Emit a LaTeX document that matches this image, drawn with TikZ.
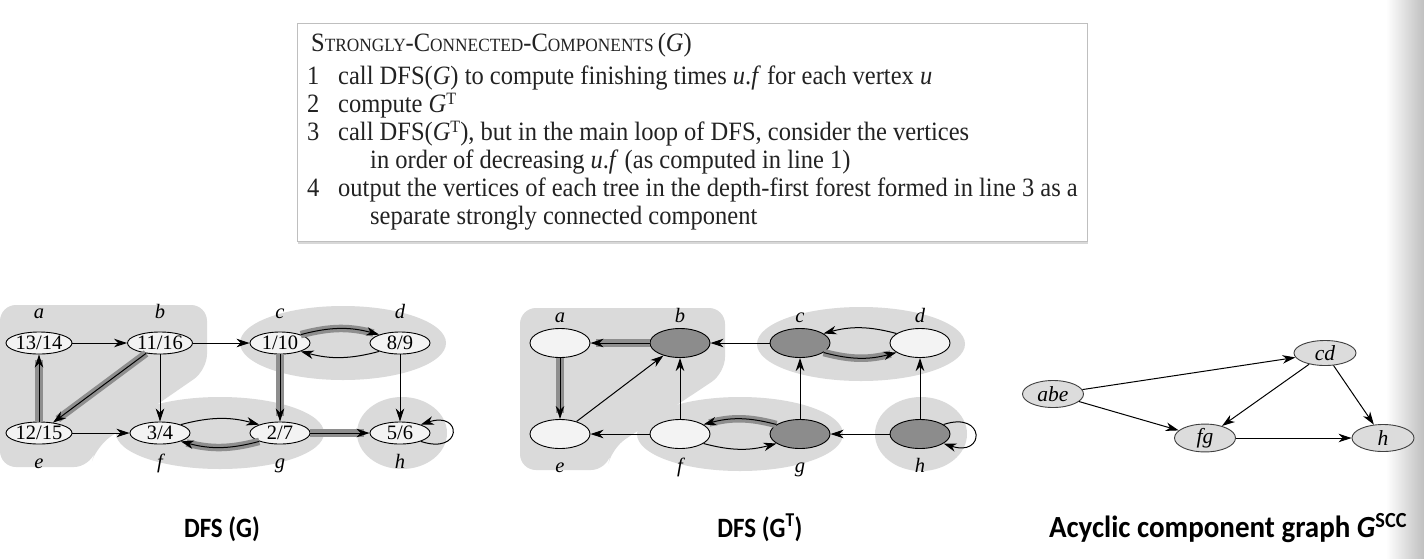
\documentclass[tikz,border=0pt]{standalone}
\usepackage{fontspec}
\setmainfont{Liberation Serif}
\newfontfamily\capfont{Carlito}
\usetikzlibrary{arrows.meta,shapes.geometric,shadows}
\definecolor{regiongray}{HTML}{DADADA}
\definecolor{treegray}{HTML}{8E8E8E}
\definecolor{nodelight}{HTML}{F3F3F3}
\definecolor{nodedark}{HTML}{8C8C8C}
\definecolor{sccfill}{HTML}{DCDCDC}
\definecolor{inkgray}{HTML}{222222}
\newcommand\scsm[1]{{\fontsize{17.3}{28}\selectfont #1}}
\newcommand\tall[1]{\scalebox{1}[1.08]{#1}}
\newcommand\supT{\raisebox{0.3em}{\fontsize{16}{16}\selectfont T}}
\tikzset{
 vtx/.style={ellipse, draw=black, line width=0.9pt, fill=nodelight, minimum width=60pt, minimum height=22pt, inner sep=0pt, font=\fontsize{20.5}{22}\selectfont},
 vtxb/.style={vtx, minimum height=29pt},
 vtxd/.style={vtxb, fill=nodedark},
 scc/.style={ellipse, draw=black!75, line width=0.9pt, fill=sccfill, minimum width=61pt, minimum height=27pt, inner sep=0pt, font=\fontsize{21.5}{23}\selectfont\itshape},
 lbl/.style={anchor=base, inner sep=0pt, font=\fontsize{20.5}{22}\selectfont\itshape},
 edge/.style={-{Stealth[length=13pt,width=8.5pt,inset=4pt]}, line width=1pt},
 tree/.style={edge, preaction={draw=treegray, line width=7.5pt, arrows=-, shorten >=6pt}},
 region/.style={fill=regiongray},
 code/.style={anchor=base west, inner sep=0pt, text=inkgray, font=\fontsize{24.5}{28}\selectfont},
 caption/.style={anchor=base, inner sep=0pt, font=\capfont\bfseries\fontsize{25}{30}\selectfont},
}
\begin{document}
\begin{tikzpicture}[x=1pt,y=-1pt]
\useasboundingbox (0,0) rectangle (1424,558);
\fill[white] (0,0) rectangle (1424,558);
\shade[left color=white, right color=black!25] (1386,0) rectangle (1424,558);

% ---------- pseudocode box ----------
\draw[draw=black!25, line width=0.8pt, fill=white, drop shadow={shadow xshift=1pt, shadow yshift=-2.5pt, opacity=0.3}] (297,23) rectangle (1087,241);
\node[code] (t0) at (311,51) {\tall{S\scsm{TRONGLY}-C\scsm{ONNECTED}-C\scsm{OMPONENTS}\,(\textit{G})}};
\node[code] (n1) at (307,84) {\tall{1}};
\node[code] (l1) at (338,84) {\tall{call DFS(\textit{G}) to compute finishing times \textit{u}.\textit{f} for each vertex \textit{u}}};
\node[code] (n2) at (307,112) {\tall{2}};
\node[code] (l2) at (338,112) {\tall{compute \textit{G}\supT}};
\node[code] (n3) at (307,140) {\tall{3}};
\node[code] (l3) at (338,140) {\tall{call DFS(\textit{G}\supT), but in the main loop of DFS, consider the vertices}};
\node[code] (l3b) at (370,168) {\tall{in order of decreasing \textit{u}.\textit{f} (as computed in line 1)}};
\node[code] (n4) at (307,196) {\tall{4}};
\node[code] (l4) at (338,196) {\tall{output the vertices of each tree in the depth-first forest formed in line 3 as a}};
\node[code] (l4b) at (370,224) {\tall{separate strongly connected component}};

% ---------- graph 1: DFS(G) ----------
\fill[region, rounded corners=16pt] (0,305) -- (207,305) -- (207,370) -- (97,446) -- (90,467) -- (0,467) -- cycle;
\fill[region] (343,343) ellipse [x radius=103, y radius=37];
\fill[region] (220,433) ellipse [x radius=104, y radius=36];
\fill[region] (402,433) ellipse [x radius=45, y radius=36];
\node[vtx] (a1) at (39,343) {13/14};
\node[vtx] (b1) at (160,343) {11/16};
\node[vtx] (c1) at (280,343) {1/10};
\node[vtx] (d1) at (400,343) {8/9};
\node[vtx] (e1) at (39,433) {12/15};
\node[vtx] (f1) at (160,433) {3/4};
\node[vtx] (g1) at (280,433) {2/7};
\node[vtx] (h1) at (400,433) {5/6};
\node[lbl] (la1) at (39,318) {a};
\node[lbl] (lb1) at (160,318) {b};
\node[lbl] (lc1) at (280,318) {c};
\node[lbl] (ld1) at (400,318) {d};
\node[lbl] (le1) at (39,468) {e};
\node[lbl] (lf1) at (160,468) {f};
\node[lbl] (lg1) at (280,468) {g};
\node[lbl] (lh1) at (400,468) {h};
\draw[edge] (a1) -- (b1);
\draw[edge] (b1) -- (c1);
\draw[tree] (e1) -- (a1);
\draw[tree] (b1) -- (e1);
\draw[edge] (b1) -- (f1);
\draw[edge] (e1) -- (f1);
\draw[tree] (c1.22) to[bend left=15] (d1.158);
\draw[edge] (d1.-158) to[bend left=15] (c1.-22);
\draw[tree] (c1) -- (g1);
\draw[edge] (f1.22) to[bend left=15] (g1.158);
\draw[tree] (g1.-158) to[bend left=15] (f1.-22);
\draw[tree] (g1) -- (h1);
\draw[edge] (d1) -- (h1);
\draw[edge] (h1.-22) .. controls +(42,14) and +(42,-14) .. (h1.22);

% ---------- graph 2: DFS(G^T) ----------
\fill[region, rounded corners=16pt] (520,308) -- (725,308) -- (725,373) -- (612,448) -- (607,470) -- (520,470) -- cycle;
\fill[region] (861,344) ellipse [x radius=104, y radius=37];
\fill[region] (740,434) ellipse [x radius=103, y radius=37];
\fill[region] (921,434) ellipse [x radius=46, y radius=37];
\node[vtxb] (a2) at (560,343) {};
\node[vtxd] (b2) at (680,343) {};
\node[vtxd] (c2) at (800,343) {};
\node[vtxb] (d2) at (920,343) {};
\node[vtxb] (e2) at (560,434) {};
\node[vtxb] (f2) at (680,434) {};
\node[vtxd] (g2) at (800,434) {};
\node[vtxd] (h2) at (920,434) {};
\node[lbl] (la2) at (560,322) {a};
\node[lbl] (lb2) at (680,322) {b};
\node[lbl] (lc2) at (800,322) {c};
\node[lbl] (ld2) at (920,322) {d};
\node[lbl] (le2) at (560,472) {e};
\node[lbl] (lf2) at (680,472) {f};
\node[lbl] (lg2) at (800,472) {g};
\node[lbl] (lh2) at (920,472) {h};
\draw[tree] (b2) -- (a2);
\draw[tree] (a2) -- (e2);
\draw[edge] (e2) -- (b2);
\draw[edge] (c2) -- (b2);
\draw[edge] (f2) -- (b2);
\draw[edge] (f2) -- (e2);
\draw[edge] (d2.158) to[bend right=15] (c2.22);
\draw[tree] (c2.-22) to[bend right=15] (d2.-158);
\draw[tree] (g2.158) to[bend right=15] (f2.22);
\draw[edge] (f2.-22) to[bend right=15] (g2.-158);
\draw[edge] (g2) -- (c2);
\draw[edge] (h2) -- (g2);
\draw[edge] (h2) -- (d2);
\draw[edge] (h2.22) .. controls +(42,-14) and +(42,14) .. (h2.-22);

% ---------- graph 3: component graph ----------
\node[scc] (abe) at (1053,394) {abe};
\node[scc, minimum height=25pt, minimum width=62pt] (cd) at (1325,353) {cd};
\node[scc] (fg) at (1205,438) {fg};
\node[scc, minimum width=62pt] (hh) at (1383,438) {h};
\draw[edge] (abe) -- (cd);
\draw[edge] (abe) -- (fg);
\draw[edge] (cd) -- (fg);
\draw[edge] (cd) -- (hh);
\draw[edge] (fg) -- (hh);

% ---------- captions ----------
\node[caption] (cap1) at (222,537) {\scalebox{1}[1.12]{DFS (G)}};
\node[caption] (cap2) at (760,537) {\scalebox{1}[1.12]{DFS (G\textsuperscript{T})}};
\node[caption, font=\capfont\bfseries\fontsize{29}{32}\selectfont] (cap3) at (1228,537) {\scalebox{1}[1.06]{Acyclic component graph \textit{G}\textsuperscript{SCC}}};
\end{tikzpicture}
\end{document}
